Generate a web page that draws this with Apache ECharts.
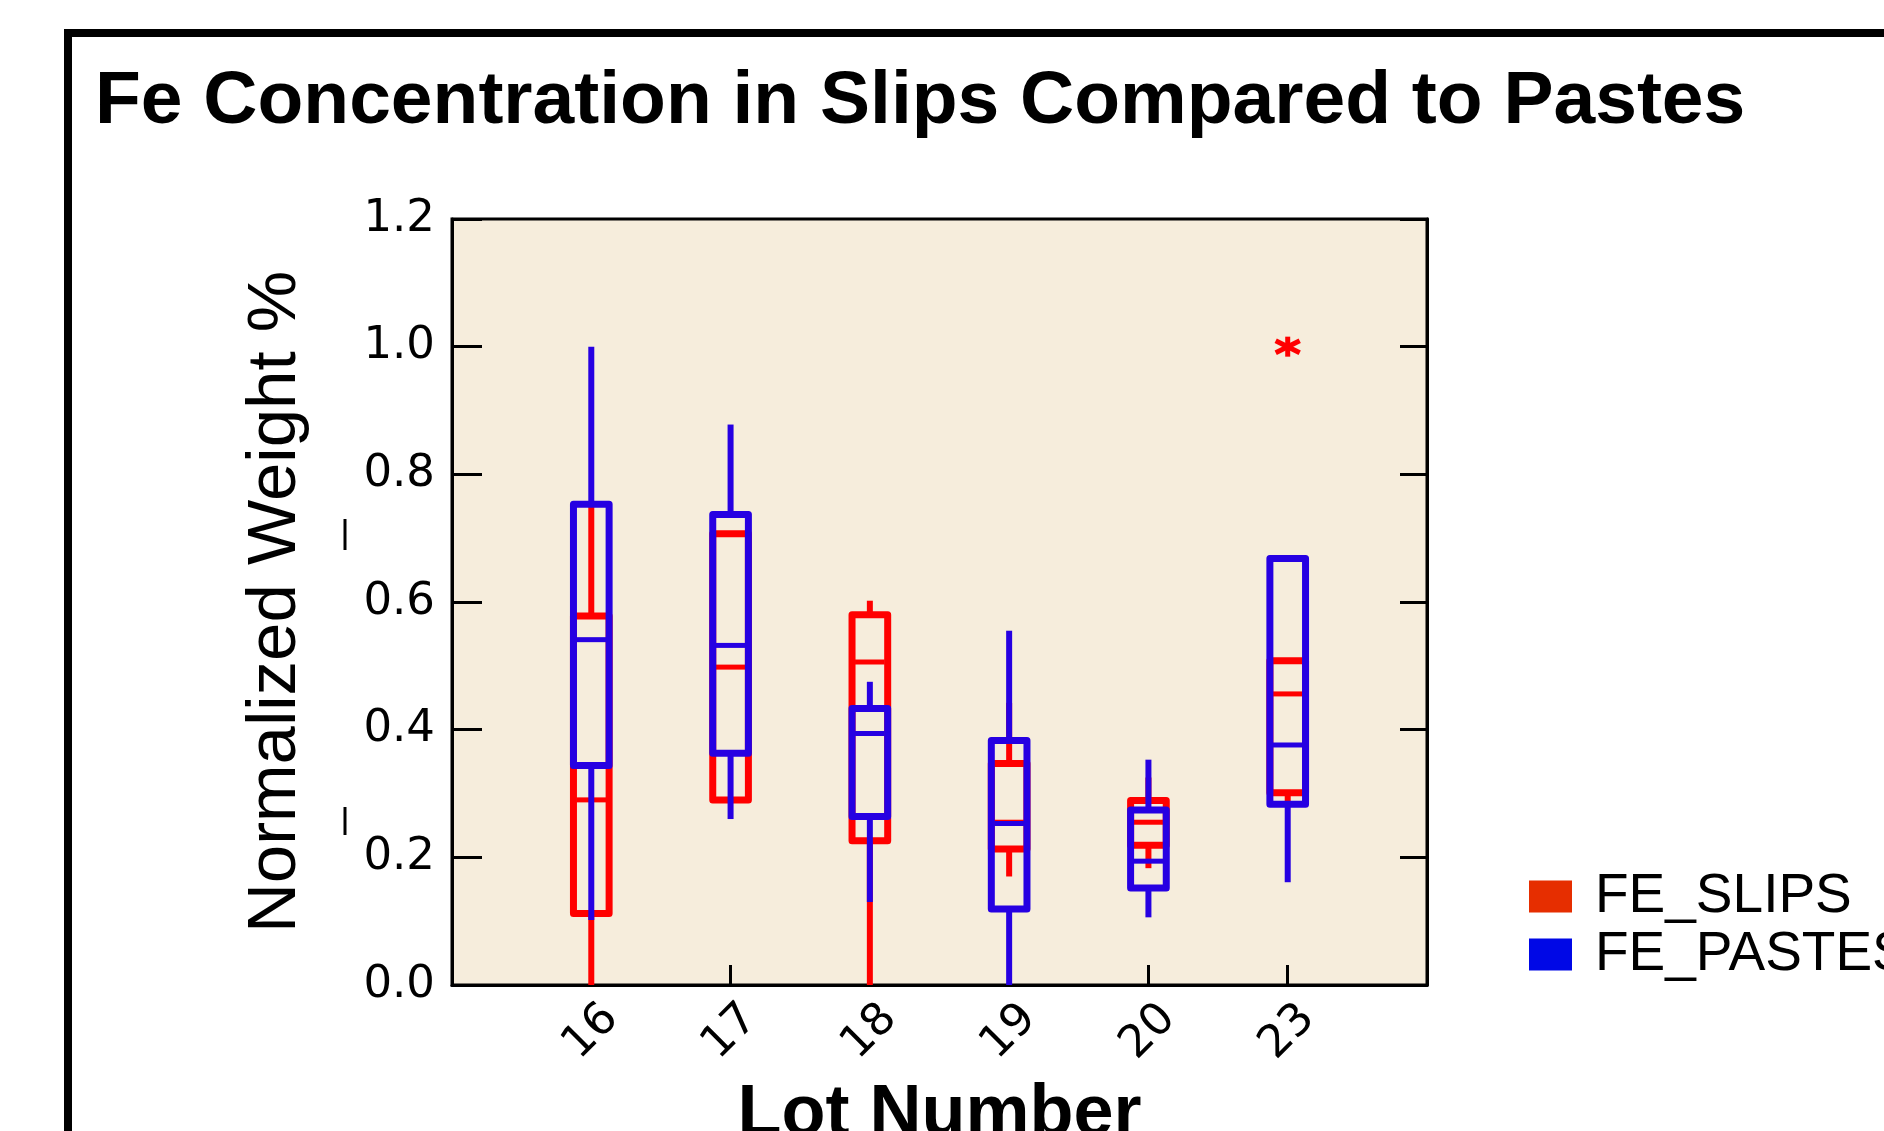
<!DOCTYPE html>
<html>
<head>
<meta charset="utf-8">
<title>Fe Concentration in Slips Compared to Pastes</title>
<script src="https://cdn.jsdelivr.net/npm/echarts@6/dist/echarts.min.js"></script>
<style>
  html, body { margin: 0; padding: 0; background: #fff; }
  #chart { width: 1884px; height: 1131px; }
</style>
</head>
<body>
<div id="chart"></div>
<script>
  // lot numbers on the x axis
  const lots = ['16', '17', '18', '19', '20', '23']
  // box stats per lot: [low whisker, Q1, median, Q3, high whisker]
  const slipsBoxes = [
    [0.00, 0.112, 0.290, 0.578, 0.750],
    [0.290, 0.290, 0.498, 0.707, 0.707],
    [0.00, 0.226, 0.506, 0.580, 0.602],
    [0.170, 0.213, 0.255, 0.347, 0.442],
    [0.183, 0.219, 0.255, 0.289, 0.325],
    [0.287, 0.301, 0.456, 0.508, 0.508]
  ]
  const pastesBoxes = [
    [0.102, 0.344, 0.541, 0.753, 1.000],
    [0.260, 0.363, 0.532, 0.737, 0.878],
    [0.130, 0.264, 0.394, 0.433, 0.475],
    [0.000, 0.119, 0.253, 0.383, 0.555],
    [0.106, 0.152, 0.194, 0.274, 0.353],
    [0.161, 0.283, 0.376, 0.668, 0.672]
  ]
  // outlier points [lot, value]
  const slipsOutliers = [['23', 1.0]]

  const yTicks = { min: 0, max: 1.2, interval: 0.2 }

  const slipsLine = '#ff0000'
  const pastesLine = '#2600e2'

  // padded ends so the lots sit one band in from each frame side
  const xCats = ['', ...lots, ' ']

  function toRows(boxes) {
    return boxes.map((b, i) => [lots[i], ...b])
  }

  function boxRenderer(color) {
    return function(params, api) {
      const x = api.value(0)
      const lo = api.coord([x, api.value(1)])
      const q1 = api.coord([x, api.value(2)])
      const med = api.coord([x, api.value(3)])
      const q3 = api.coord([x, api.value(4)])
      const hi = api.coord([x, api.value(5)])
      const half = api.size([1, 0])[0] * 0.128
      const cx = q1[0]
      const line = { stroke: color, lineWidth: 6, lineCap: 'butt' }
      return {
        type: 'group',
        children: [
          { type: 'line', shape: { x1: cx, y1: hi[1], x2: cx, y2: q3[1] }, style: line },
          { type: 'line', shape: { x1: cx, y1: q1[1], x2: cx, y2: lo[1] }, style: line },
          {
            type: 'rect',
            shape: { x: cx - half, y: q3[1], width: half * 2, height: q1[1] - q3[1] },
            style: { fill: 'none', stroke: color, lineWidth: 7, lineJoin: 'round' }
          },
          {
            type: 'line',
            shape: { x1: cx - half + 3, y1: med[1], x2: cx + half - 3, y2: med[1] },
            style: { stroke: color, lineWidth: 5 }
          }
        ]
      }
    }
  }

  function starRenderer(params, api) {
    const p = api.coord([api.value(0), api.value(1)])
    const st = { stroke: slipsLine, lineWidth: 5 }
    return {
      type: 'group',
      children: [
        { type: 'line', shape: { x1: p[0], y1: p[1] - 10, x2: p[0], y2: p[1] + 10 }, style: st },
        { type: 'line', shape: { x1: p[0] - 12, y1: p[1] - 6, x2: p[0] + 12, y2: p[1] + 6 }, style: st },
        { type: 'line', shape: { x1: p[0] - 12, y1: p[1] + 6, x2: p[0] + 12, y2: p[1] - 6 }, style: st }
      ]
    }
  }

  const chart = echarts.init(document.getElementById('chart'))
  chart.setOption({
    animation: false,
    backgroundColor: '#ffffff',
    title: {
      text: 'Fe Concentration in Slips Compared to Pastes',
      left: 90,
      top: 60,
      textStyle: {
        fontFamily: 'Liberation Sans',
        fontWeight: 'bold',
        fontSize: 75,
        color: '#000'
      }
    },
    legend: {
      orient: 'vertical',
      left: 1524,
      top: 864,
      icon: 'rect',
      itemWidth: 43,
      itemHeight: 32,
      itemGap: 3,
      data: [
        { name: 'FE_SLIPS', itemStyle: { color: '#e62e00' } },
        { name: 'FE_PASTES', itemStyle: { color: '#0008e6' } }
      ],
      textStyle: {
        fontFamily: 'Liberation Sans',
        fontSize: 55,
        color: '#000',
        padding: [0, 0, 0, 18]
      }
    },
    graphic: [
      {
        type: 'rect',
        shape: { x: 68, y: 33, width: 2400, height: 2400 },
        style: { fill: 'none', stroke: '#000', lineWidth: 8 },
        silent: true
      },
      {
        type: 'line',
        shape: { x1: 345, y1: 519, x2: 345, y2: 550 },
        style: { stroke: '#000', lineWidth: 3 }
      },
      {
        type: 'line',
        shape: { x1: 345, y1: 807, x2: 345, y2: 835 },
        style: { stroke: '#000', lineWidth: 3 }
      }
    ],
    grid: {
      left: 452,
      right: 457,
      top: 219,
      bottom: 146,
      outerBoundsMode: 'none',
      containLabel: false,
      show: true,
      backgroundColor: '#f6eddc',
      borderColor: '#000',
      borderWidth: 3
    },
    xAxis: [
      {
        type: 'category',
        data: xCats,
        boundaryGap: false,
        name: 'Lot Number',
        nameLocation: 'middle',
        nameGap: 94,
        nameTextStyle: {
          fontFamily: 'Liberation Sans',
          fontWeight: 'bold',
          fontSize: 72,
          color: '#000'
        },
        axisLine: { lineStyle: { color: '#000', width: 3 } },
        axisTick: { inside: true, length: 20, lineStyle: { color: '#000', width: 3 } },
        axisLabel: {
          rotate: 45,
          margin: 47,
          align: 'center',
          verticalAlign: 'middle',
          fontFamily: 'DejaVu Sans',
          fontSize: 45,
          color: '#000'
        },
        splitLine: { show: false }
      }
    ],
    yAxis: [
      {
        type: 'value',
        min: yTicks.min,
        max: yTicks.max,
        interval: yTicks.interval,
        name: 'Normalized Weight %',
        nameLocation: 'middle',
        nameRotate: 90,
        nameGap: 142,
        nameTextStyle: {
          fontFamily: 'Liberation Sans',
          fontSize: 69,
          color: '#000'
        },
        axisLine: { show: true, lineStyle: { color: '#000', width: 3 } },
        axisTick: { show: true, inside: true, length: 30, lineStyle: { color: '#000', width: 3 } },
        axisLabel: {
          margin: 17,
          fontFamily: 'DejaVu Sans',
          fontSize: 45,
          color: '#000',
          formatter: v => v.toFixed(1)
        },
        splitLine: { show: false }
      },
      {
        type: 'value',
        position: 'right',
        min: yTicks.min,
        max: yTicks.max,
        interval: yTicks.interval,
        axisLine: { show: true, lineStyle: { color: '#000', width: 3 } },
        axisTick: { show: true, inside: true, length: 27, lineStyle: { color: '#000', width: 3 } },
        axisLabel: { show: false },
        splitLine: { show: false }
      }
    ],
    series: [
      {
        name: 'FE_SLIPS',
        type: 'custom',
        itemStyle: { color: '#e62e00' },
        encode: { x: 0, y: [1, 2, 3, 4, 5] },
        renderItem: boxRenderer(slipsLine),
        data: toRows(slipsBoxes),
        z: 2
      },
      {
        name: 'FE_PASTES',
        type: 'custom',
        itemStyle: { color: '#0008e6' },
        encode: { x: 0, y: [1, 2, 3, 4, 5] },
        renderItem: boxRenderer(pastesLine),
        data: toRows(pastesBoxes),
        z: 3
      },
      {
        name: 'FE_SLIPS outliers',
        type: 'custom',
        encode: { x: 0, y: 1 },
        renderItem: starRenderer,
        data: slipsOutliers,
        z: 4
      }
    ]
  })
</script>
</body>
</html>
